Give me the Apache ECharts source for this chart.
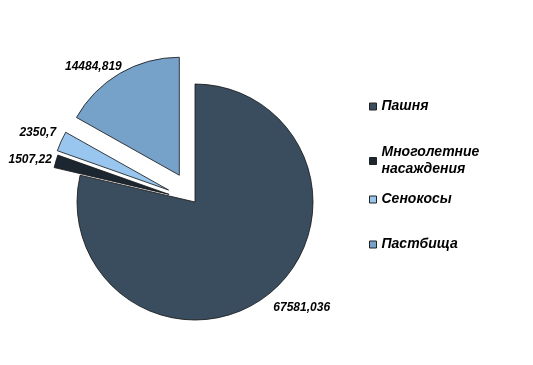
<!DOCTYPE html>
<html><head><meta charset="utf-8">
<script src="https://cdn.jsdelivr.net/npm/echarts@6/dist/echarts.min.js"></script>
<style>html,body{margin:0;padding:0;background:#fff}#c{width:533px;height:365px}</style>
</head><body><div id="c"></div>
<script>
const categories = ['Пашня', 'Многолетние насаждения', 'Сенокосы', 'Пастбища'];
const legendLabels = ['Пашня', 'Многолетние\nнасаждения', 'Сенокосы', 'Пастбища'];
const values = [67581.036, 1507.22, 2350.7, 14484.819];
const colors = ['#3a4d5f', '#1b2631', '#98c6ee', '#76a2ca'];
const offsets = [0, 27, 29, 31];
const labelShift = [[0, 13], [1, -2], [0, -9], [7, -7]];
const legendTops = [93, 139, 186, 231];

const font = 'Liberation Sans, Arial, sans-serif';
const fmt = v => String(v).replace('.', ',');

const series = categories.map((name, k) => ({
  type: 'pie',
  center: [195, 202],
  radius: 118,
  startAngle: 90,
  clockwise: true,
  avoidLabelOverlap: false,
  selectedMode: 'multiple',
  selectedOffset: offsets[k],
  silent: true,
  label: {
    show: true, position: 'outside',
    fontFamily: font, fontWeight: 'bold', fontStyle: 'italic', fontSize: 12, color: '#000',
    formatter: p => fmt(p.value)
  },
  labelLine: { show: false, length: 0, length2: 0 },
  labelLayout: { dx: labelShift[k][0], dy: labelShift[k][1] },
  emphasis: { disabled: true },
  data: categories.map((n, i) => i === k ? {
    name: n, value: values[i], selected: offsets[k] > 0,
    itemStyle: { color: colors[i], borderColor: '#111', borderWidth: 0.8 }
  } : {
    name: n, value: values[i],
    itemStyle: { color: 'rgba(0,0,0,0)', borderWidth: 0 },
    label: { show: false }
  })
}));

const legends = categories.map((name, i) => ({
  left: 364, top: legendTops[i], orient: 'vertical',
  itemWidth: 7, itemHeight: 7, itemGap: 0,
  icon: 'rect', selectedMode: false,
  textStyle: { fontFamily: font, fontWeight: 'bold', fontStyle: 'italic', fontSize: 14, color: '#000', lineHeight: 17 },
  formatter: () => legendLabels[i],
  data: [{ name, itemStyle: { color: colors[i], borderColor: '#222', borderWidth: 1 } }]
}));

const chart = echarts.init(document.getElementById('c'), null, { renderer: 'canvas' });
chart.setOption({
  animation: false,
  backgroundColor: '#fff',
  legend: legends,
  series
});
</script></body></html>
